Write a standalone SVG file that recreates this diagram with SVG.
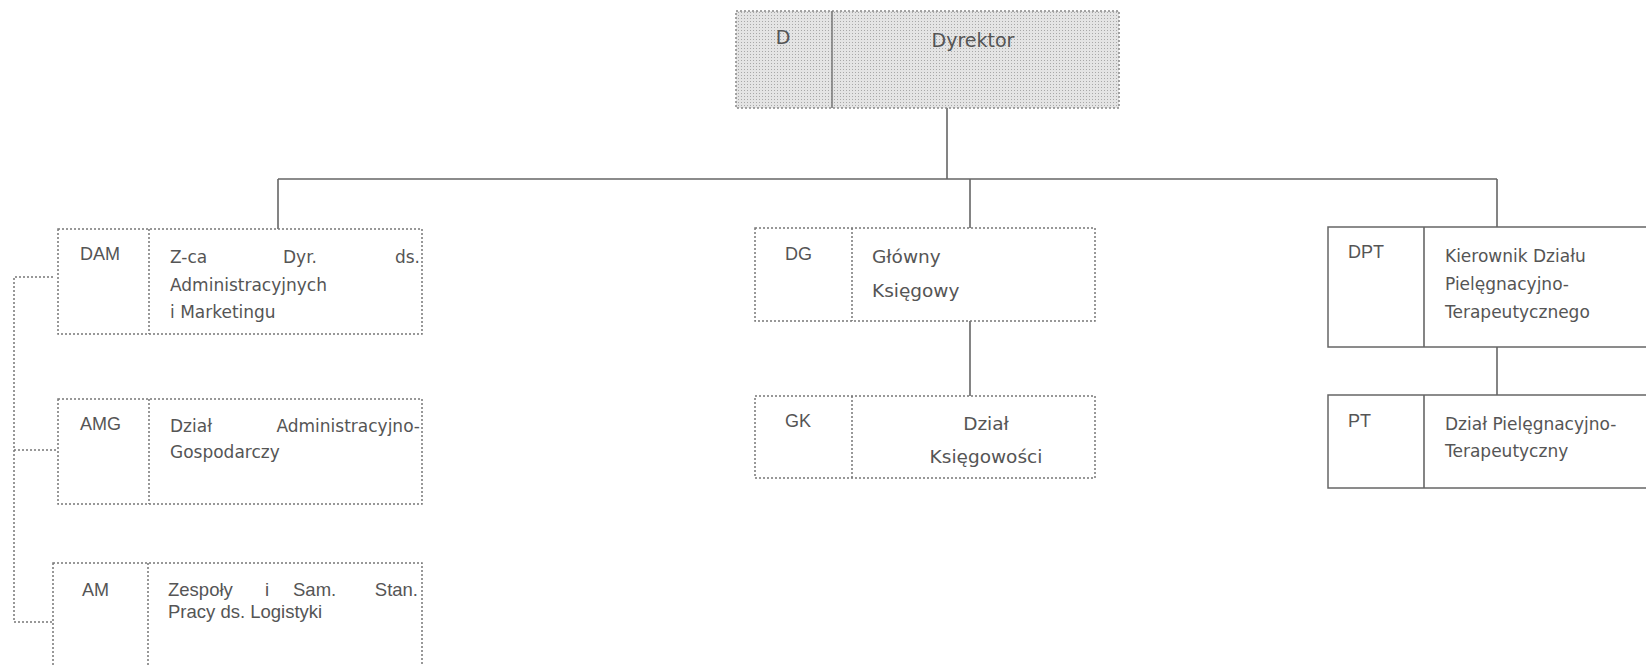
<svg xmlns="http://www.w3.org/2000/svg" width="1646" height="666" viewBox="0 0 1646 666">
<defs>
<pattern id="stip" width="3" height="3" patternUnits="userSpaceOnUse">
<rect width="3" height="3" fill="#e4e4e4"/>
<rect width="1" height="1" fill="#a8a8a8"/>
</pattern>
</defs>
<style>
.dot{fill:#fff;stroke:#777;stroke-width:1.5;stroke-dasharray:2 2}
.sol{fill:#fff;stroke:#666;stroke-width:1.5}
.dir{fill:url(#stip);stroke:#888;stroke-width:1.5;stroke-dasharray:2 2}
.ln{fill:none;stroke:#666;stroke-width:1.6}
.dln{fill:none;stroke:#777;stroke-width:1.5;stroke-dasharray:2 2}
.code{font-family:"Liberation Sans",Arial,sans-serif;font-size:18px;fill:#555}
.cm{font-family:"DejaVu Sans","Noto Sans",sans-serif;font-size:17px;fill:#555}
.ar{font-family:"Liberation Sans",Arial,sans-serif;font-size:18.5px;fill:#555}
</style>
<rect width="1646" height="666" fill="#fff"/>
<g id="connectors">
<path class="ln" d="M947 108 V179 M278 179 H1497 M278 179 V229 M970 179 V228 M1497 179 V227"/>
<path class="ln" d="M970 321 V396"/>
<path class="ln" d="M1497 347 V395"/>
<path class="dln" d="M53 277 H14 V622 H53 M14 450 H58"/>
</g>
<g id="node-D">
<rect class="dir" x="736" y="11" width="383" height="97"/>
<line x1="832" y1="11" x2="832" y2="108" stroke="#777" stroke-width="1.5"/>
<text class="cm" x="783" y="44" text-anchor="middle" style="font-size:19px">D</text>
<text class="cm" x="973" y="47" text-anchor="middle" style="font-size:19px">Dyrektor</text>
</g>
<g id="node-DAM">
<rect class="dot" x="58" y="229" width="364" height="105"/>
<line class="dln" x1="149" y1="229" x2="149" y2="334"/>
<text class="code" x="80" y="260">DAM</text>
<text class="cm" x="170" y="263">Z-ca</text>
<text class="cm" x="283" y="263">Dyr.</text>
<text class="cm" x="420" y="263" text-anchor="end">ds.</text>
<text class="cm" x="170" y="291">Administracyjnych</text>
<text class="cm" x="170" y="318">i Marketingu</text>
</g>
<g id="node-AMG">
<rect class="dot" x="58" y="399" width="364" height="105"/>
<line class="dln" x1="149" y1="399" x2="149" y2="504"/>
<text class="code" x="80" y="430">AMG</text>
<text class="cm" x="170" y="432">Dział</text>
<text class="cm" x="420" y="432" text-anchor="end">Administracyjno-</text>
<text class="cm" x="170" y="458">Gospodarczy</text>
</g>
<g id="node-AM">
<rect class="dot" x="53" y="563" width="369" height="140"/>
<line class="dln" x1="148" y1="563" x2="148" y2="703"/>
<text class="code" x="82" y="596">AM</text>
<text class="ar" x="168" y="596">Zespoły</text>
<text class="ar" x="265" y="596">i</text>
<text class="ar" x="293" y="596">Sam.</text>
<text class="ar" x="418" y="596" text-anchor="end">Stan.</text>
<text class="ar" x="168" y="618">Pracy ds. Logistyki</text>
</g>
<g id="node-DG">
<rect class="dot" x="755" y="228" width="340" height="93"/>
<line class="dln" x1="852" y1="228" x2="852" y2="321"/>
<text class="code" x="785" y="260">DG</text>
<text class="cm" x="872" y="263" style="font-size:18.5px">Główny</text>
<text class="cm" x="872" y="297" style="font-size:18.5px">Księgowy</text>
</g>
<g id="node-GK">
<rect class="dot" x="755" y="396" width="340" height="82"/>
<line class="dln" x1="852" y1="396" x2="852" y2="478"/>
<text class="code" x="785" y="427">GK</text>
<text class="cm" x="986" y="430" text-anchor="middle" style="font-size:18.5px">Dział</text>
<text class="cm" x="986" y="463" text-anchor="middle" style="font-size:18.5px">Księgowości</text>
</g>
<g id="node-DPT">
<rect class="sol" x="1328" y="227" width="330" height="120"/>
<line class="ln" x1="1424" y1="227" x2="1424" y2="347"/>
<text class="code" x="1348" y="258">DPT</text>
<text class="cm" x="1445" y="262">Kierownik Działu</text>
<text class="cm" x="1445" y="290">Pielęgnacyjno-</text>
<text class="cm" x="1445" y="318">Terapeutycznego</text>
</g>
<g id="node-PT">
<rect class="sol" x="1328" y="395" width="330" height="93"/>
<line class="ln" x1="1424" y1="395" x2="1424" y2="488"/>
<text class="code" x="1348" y="427">PT</text>
<text class="cm" x="1445" y="430">Dział Pielęgnacyjno-</text>
<text class="cm" x="1445" y="457">Terapeutyczny</text>
</g>
</svg>
